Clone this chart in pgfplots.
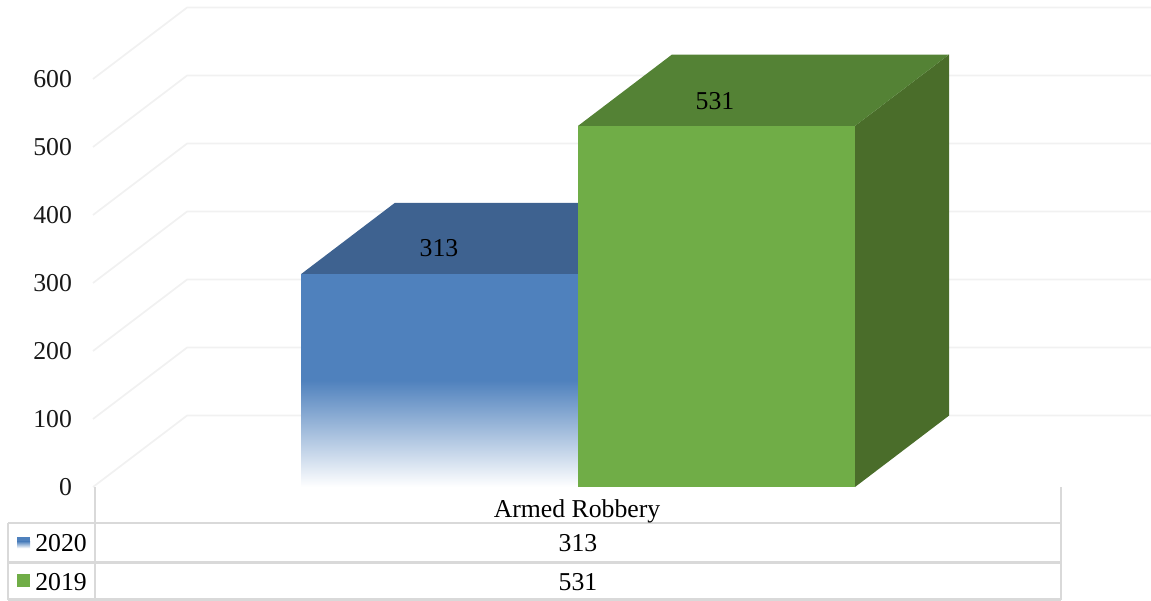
\documentclass[border=0pt]{standalone}
\usepackage{pgfplots}
\pgfplotsset{compat=1.18}
\usepackage{fontspec}
\setmainfont{Liberation Serif}
\definecolor{gridc}{HTML}{F1F1F1}
\definecolor{tablec}{HTML}{D9D9D9}
\definecolor{blfront}{HTML}{4F81BD}
\definecolor{bltop}{HTML}{3E6290}
\definecolor{grfront}{HTML}{70AD47}
\definecolor{grtop}{HTML}{548235}
\definecolor{grside}{HTML}{4A6D2A}
\newcommand{\lab}{\fontsize{19.3}{21}\selectfont}
\begin{document}
\begin{tikzpicture}
\begin{axis}[%
width=863.25pt,
height=450pt,
scale only axis,
xmin=0,
xmax=1151,
ymin=-166.18,
ymax=716.18,
xtick=\empty,
ytick={0,100,200,300,400,500,600},
axis line style={draw=none},
tick style={draw=none},
major tick length=0pt,
/pgf/number format/assume math mode=true,
yticklabel style={font=\lab,anchor=east,xshift=57.5pt,text=black!90},
]
% back wall and floor lines
\addplot[gridc,line width=1.3pt] coordinates {(93,0) (187,105) (1151,105)};
\addplot[gridc,line width=1.3pt] coordinates {(93,100) (187,205) (1151,205)};
\addplot[gridc,line width=1.3pt] coordinates {(93,200) (187,305) (1151,305)};
\addplot[gridc,line width=1.3pt] coordinates {(93,300) (187,405) (1151,405)};
\addplot[gridc,line width=1.3pt] coordinates {(93,400) (187,505) (1151,505)};
\addplot[gridc,line width=1.3pt] coordinates {(93,500) (187,605) (1151,605)};
\addplot[gridc,line width=1.3pt] coordinates {(93,600) (187,705) (1151,705)};

% 2020
\addplot[draw=none,fill=bltop] coordinates {(301,313) (395,418) (672,418) (578,313)} --cycle;
\addplot[draw=none,fill=blfront] coordinates {(301,157) (301,313) (578,313) (578,157)} --cycle;
\addplot[draw=none,top color=blfront,bottom color=white] coordinates {(301,0) (301,157) (578,157) (578,0)} --cycle;

% 2019
\addplot[draw=none,fill=grside] coordinates {(855,0) (949,105) (949,636) (855,531)} --cycle;
\addplot[draw=none,fill=grtop] coordinates {(578,531) (672,636) (949,636) (855,531)} --cycle;
\addplot[draw=none,fill=grfront] coordinates {(578,0) (578,531) (855,531) (855,0)} --cycle;

% data table rules
\addplot[tablec,line width=1.7pt] coordinates {(8,-53) (1061,-53)};
\addplot[tablec,line width=1.7pt] coordinates {(8,-111) (1061,-111)};
\addplot[tablec,line width=1.7pt] coordinates {(8,-165.5) (1061,-165.5)};
\addplot[tablec,line width=1.7pt] coordinates {(8,-53) (8,-166)};
\addplot[tablec,line width=1.7pt] coordinates {(95,0) (95,-166)};
\addplot[tablec,line width=1.7pt] coordinates {(1061,0) (1061,-166)};

% legend keys
\addplot[draw=none,fill=blfront] coordinates {(17,-73) (30,-73) (30,-80) (17,-80)} --cycle;
\addplot[draw=none,top color=blfront,bottom color=white] coordinates {(17,-80) (30,-80) (30,-90) (17,-90)} --cycle;
\addplot[draw=none,fill=grfront] coordinates {(17,-128) (30,-128) (30,-147) (17,-147)} --cycle;

\node[font=\lab] at (axis cs:439,351.5) {313};
\node[font=\lab] at (axis cs:715,567.6) {531};
\node[font=\lab] at (axis cs:577,-36.5) {Armed Robbery};
\node[font=\lab] at (axis cs:578,-82.4) {313};
\node[font=\lab] at (axis cs:578,-139.5) {531};
\node[font=\lab] at (axis cs:61,-82.4) {2020};
\node[font=\lab] at (axis cs:61,-139.5) {2019};
\end{axis}
\end{tikzpicture}
\end{document}
